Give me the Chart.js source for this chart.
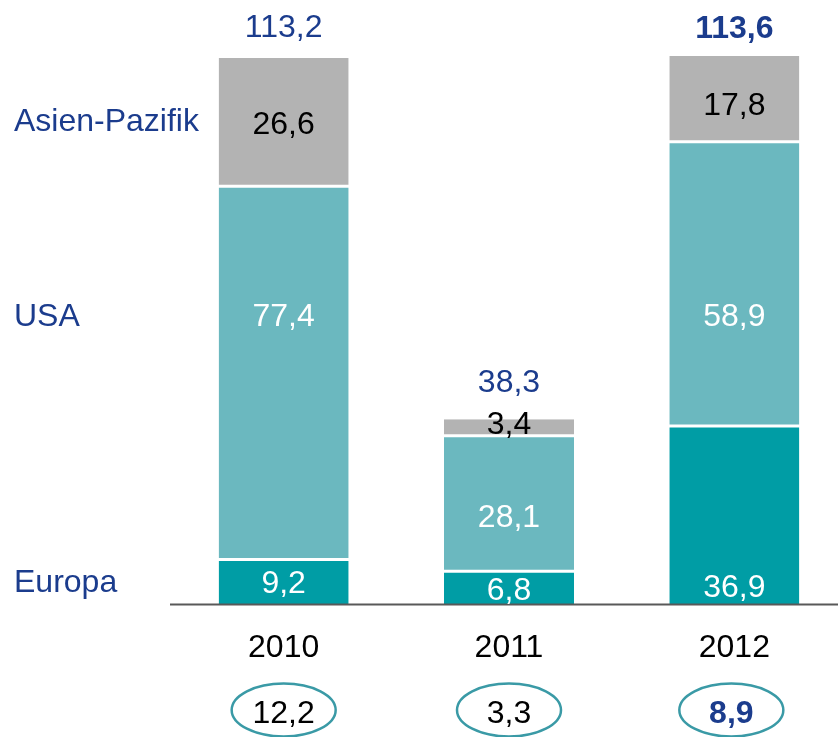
<!DOCTYPE html>
<html><head><meta charset="utf-8">
<script src="https://cdn.jsdelivr.net/npm/chart.js@4"></script>
<style>html,body{margin:0;padding:0;overflow:hidden;background:#fff}#wrap{width:838px;height:737px;overflow:hidden}</style>
</head><body><div id="wrap"><canvas id="c" width="847" height="737"></canvas></div>
<script>
const years = ['2010', '2011', '2012'];
const europa = [9.2, 6.8, 36.9];
const usa = [77.4, 28.1, 58.9];
const asien = [26.6, 3.4, 17.8];
const totals = [113.2, 38.3, 113.6];
const growth = [12.2, 3.3, 8.9];
const seriesNames = ['Europa', 'USA', 'Asien-Pazifik'];

const FONT = '"Liberation Sans", Arial, sans-serif';
const FS = 32;
const BLUE = '#1B3C8D';
const COLORS = ['#009DA5', '#6BB8BF', '#B3B3B3'];
const LABEL_COLORS = ['#FFFFFF', '#FFFFFF', '#000000'];
// text placement overrides (pixel centre y) for segment labels: key = dataset-index
const labelY = {'1-0': 315, '1-2': 315, '1-1': 516, '0-2': 586, '0-1': 589, '0-0': 582, '2-1': 423, '2-2': 104};
const sideLabelY = [581, 315, 120];
const totalGap = [32, 39, 29];

const fmt = v => v.toFixed(1).replace('.', ',');

function text(ctx, s, x, cy, color, bold, align) {
  ctx.font = (bold ? 'bold ' : '') + FS + 'px ' + FONT;
  ctx.fillStyle = color;
  ctx.textAlign = align || 'center';
  ctx.textBaseline = 'alphabetic';
  ctx.fillText(s, x, cy + 0.358 * FS);
}

const overlay = {
  id: 'overlay',
  afterDraw(chart) {
    const ctx = chart.ctx;
    const area = chart.chartArea;
    ctx.save();
    // axis line
    ctx.fillStyle = '#595959';
    ctx.fillRect(170, area.bottom - 0.5, 700, 2);
    // segment labels
    chart.data.datasets.forEach((ds, di) => {
      const meta = chart.getDatasetMeta(di);
      meta.data.forEach((bar, i) => {
        const key = di + '-' + i;
        const cy = labelY[key] !== undefined ? labelY[key] : (bar.y + bar.base) / 2;
        text(ctx, fmt(ds.data[i]), bar.x, cy, LABEL_COLORS[di], false);
      });
    });
    // totals
    const topMeta = chart.getDatasetMeta(2);
    topMeta.data.forEach((bar, i) => {
      text(ctx, fmt(totals[i]), bar.x, bar.y - totalGap[i], BLUE, i === 2);
    });
    // years and growth ellipses
    const m0 = chart.getDatasetMeta(0);
    m0.data.forEach((bar, i) => {
      text(ctx, years[i], bar.x, 646, '#000000', false);
      const ex = bar.x - (i === 2 ? 3 : 0);
      ctx.beginPath();
      ctx.ellipse(ex, 710, 52, 26.5, 0, 0, Math.PI * 2);
      ctx.lineWidth = 2.5;
      ctx.strokeStyle = '#3A9AA6';
      ctx.stroke();
      text(ctx, fmt(growth[i]), ex, 712, i === 2 ? BLUE : '#000000', i === 2);
    });
    // side labels
    seriesNames.forEach((n, k) => text(ctx, n, 14, sideLabelY[k], BLUE, false, 'left'));
    ctx.restore();
  }
};

const bw = [
  {top: 1.5, bottom: 0, left: 0, right: 0},
  {top: 1.5, bottom: 1.5, left: 0, right: 0},
  {top: 0, bottom: 1.5, left: 0, right: 0}
];
const seriesData = [europa, usa, asien];

new Chart(document.getElementById('c'), {
  type: 'bar',
  data: {
    labels: years,
    datasets: seriesData.map((d, k) => ({
      label: seriesNames[k],
      data: d,
      backgroundColor: COLORS[k],
      borderColor: '#FFFFFF',
      borderWidth: bw[k],
      borderSkipped: false,
      inflateAmount: 0,
      barPercentage: 0.577,
      categoryPercentage: 1
    }))
  },
  options: {
    responsive: false,
    animation: false,
    devicePixelRatio: 1,
    layout: {padding: {left: 171, right: 0, top: 0, bottom: 133}},
    plugins: {legend: {display: false}, tooltip: {enabled: false}},
    scales: {
      x: {stacked: true, display: false},
      y: {stacked: true, display: false, min: 0, max: 125.2}
    }
  },
  plugins: [overlay]
});
</script></body></html>
